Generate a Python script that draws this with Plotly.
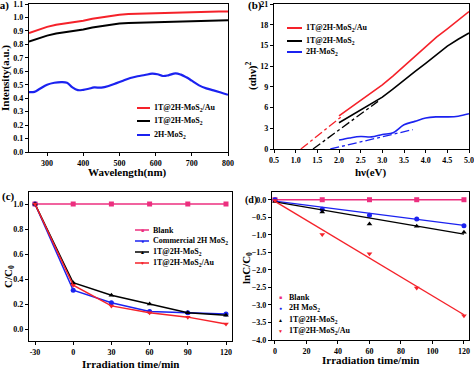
import plotly.graph_objects as go

W, H = 474, 368
def px(x): return x / W
def py(y): return 1 - y / H

# ---------- data ----------
# (a) absorption
wl = [250, 275, 300, 325, 350, 375, 400, 425, 450, 475, 500, 525, 550, 575, 600, 625, 650, 675, 700, 725, 750, 775, 800]
int_au = [0.885, 0.91, 0.93, 0.945, 0.955, 0.962, 0.975, 0.99, 1.0, 1.012, 1.02, 1.025, 1.028, 1.029, 1.03, 1.032, 1.035, 1.037, 1.04, 1.041, 1.042, 1.044, 1.045]
int_1t = [0.82, 0.845, 0.865, 0.88, 0.89, 0.897, 0.91, 0.925, 0.935, 0.947, 0.955, 0.959, 0.962, 0.964, 0.965, 0.966, 0.968, 0.97, 0.972, 0.975, 0.978, 0.979, 0.98]
wl_2h = [250, 265, 280, 300, 320, 340, 355, 370, 385, 400, 415, 430, 450, 470, 490, 510, 530, 550, 570, 590, 605, 620, 635, 655, 670, 685, 700, 720, 740, 760, 780, 800]
int_2h = [0.445, 0.447, 0.47, 0.5, 0.515, 0.52, 0.515, 0.48, 0.46, 0.462, 0.47, 0.48, 0.478, 0.49, 0.51, 0.53, 0.55, 0.563, 0.572, 0.582, 0.578, 0.565, 0.57, 0.585, 0.575, 0.555, 0.53, 0.495, 0.473, 0.458, 0.442, 0.425]

# (b) Tauc plot
hv = [2.0, 2.25, 2.5, 2.75, 3.0, 3.25, 3.5, 3.75, 4.0, 4.25, 4.5, 4.75, 5.0]
tauc_au = [4.8, 5.9, 7.0, 8.1, 9.3, 10.6, 12.0, 13.5, 14.9, 16.2, 17.4, 18.6, 19.9]
tauc_1t = [3.8, 4.7, 5.6, 6.5, 7.5, 8.7, 10.0, 11.2, 12.4, 13.7, 14.9, 15.9, 16.8]
tauc_2h = [1.3, 1.6, 1.8, 1.75, 2.1, 2.35, 3.5, 4.0, 4.5, 4.65, 4.65, 4.75, 5.1]
fit_au_x = [1.12, 2.1]; fit_au_y = [0.0, 4.9]
fit_1t_x = [1.4, 2.9]; fit_1t_y = [0.0, 6.9]
fit_2h_x = [1.8, 3.7]; fit_2h_y = [0.0, 2.8]

# (c) C/C0
t_labels = ["-30", "0", "30", "60", "90", "120"]
c_blank = [1.0, 1.0, 1.0, 1.0, 1.0, 1.0]
c_2h = [1.0, 0.31, 0.21, 0.14, 0.13, 0.12]
c_1t = [1.0, 0.37, 0.27, 0.20, 0.13, 0.11]
c_au = [1.0, 0.35, 0.185, 0.13, 0.095, 0.04]

# (d) ln(C/C0)
t_min = [0, 30, 60, 90, 120]
ln_blank = [0.0, 0.0, 0.0, 0.0, 0.0]
ln_2h = [0.0, -0.27, -0.44, -0.55, -0.74]
ln_1t = [-0.05, -0.35, -0.69, -0.76, -0.93]
ln_au = [-0.02, -0.99, -1.54, -2.52, -3.31]
fit_t = [0, 120]
fit_blank = [0.0, 0.0]
fit_2h = [-0.04, -0.73]
fit_1t = [-0.06, -0.98]
fit_au = [-0.05, -3.28]

RED = "#f5222a"; BLACK = "#000000"; BLUE = "#1b22f0"; PINK = "#ec2f7f"
FONT = "Liberation Serif"

fig = go.Figure()

# (a)
fig.add_trace(go.Scatter(x=wl, y=int_au, mode="lines", line=dict(color=RED, width=2), xaxis="x", yaxis="y"))
fig.add_trace(go.Scatter(x=wl, y=int_1t, mode="lines", line=dict(color=BLACK, width=2), xaxis="x", yaxis="y"))
fig.add_trace(go.Scatter(x=wl_2h, y=int_2h, mode="lines", line=dict(color=BLUE, width=2.2, shape="spline"), xaxis="x", yaxis="y"))

# (b)
fig.add_trace(go.Scatter(x=hv, y=tauc_au, mode="lines", line=dict(color=RED, width=1.6), xaxis="x2", yaxis="y2"))
fig.add_trace(go.Scatter(x=hv, y=tauc_1t, mode="lines", line=dict(color=BLACK, width=1.6), xaxis="x2", yaxis="y2"))
fig.add_trace(go.Scatter(x=hv, y=tauc_2h, mode="lines", line=dict(color=BLUE, width=1.6, shape="spline"), xaxis="x2", yaxis="y2"))
fig.add_trace(go.Scatter(x=fit_au_x, y=fit_au_y, mode="lines", line=dict(color=RED, width=1.3, dash="dashdot"), xaxis="x2", yaxis="y2"))
fig.add_trace(go.Scatter(x=fit_1t_x, y=fit_1t_y, mode="lines", line=dict(color=BLACK, width=1.3, dash="dashdot"), xaxis="x2", yaxis="y2"))
fig.add_trace(go.Scatter(x=fit_2h_x, y=fit_2h_y, mode="lines", line=dict(color=BLUE, width=1.3, dash="dashdot"), xaxis="x2", yaxis="y2"))

# (c)
for ys, col, sym in [(c_blank, PINK, "square"), (c_2h, BLUE, "circle"), (c_1t, BLACK, "triangle-up"), (c_au, RED, "triangle-down")]:
    fig.add_trace(go.Scatter(x=t_labels, y=ys, mode="lines+markers", line=dict(color=col, width=1.5),
                             marker=dict(symbol=sym, size=5, color=col), xaxis="x3", yaxis="y3"))

# (d)
for ys, fy, col, sym in [(ln_blank, fit_blank, PINK, "square"), (ln_2h, fit_2h, BLUE, "circle"),
                         (ln_1t, fit_1t, BLACK, "triangle-up"), (ln_au, fit_au, RED, "triangle-down")]:
    fig.add_trace(go.Scatter(x=fit_t, y=fy, mode="lines", line=dict(color=col, width=1.4), xaxis="x4", yaxis="y4"))
    fig.add_trace(go.Scatter(x=t_min, y=ys, mode="markers", marker=dict(symbol=sym, size=5, color=col), xaxis="x4", yaxis="y4"))

tickfont = dict(family=FONT, size=8, color="black", weight="bold")
def ax(**kw):
    d = dict(showgrid=False, zeroline=False, showline=True, linecolor="black", linewidth=1.2, mirror=True,
             ticks="outside", ticklen=3, tickwidth=1, tickcolor="black", tickfont=tickfont,
             automargin=False, ticklabeloverflow="allow")
    d.update(kw)
    return d

fig.update_layout(
    template="none",
    width=W, height=H, margin=dict(l=0, r=0, t=0, b=0, pad=0), autosize=False,
    paper_bgcolor="white", plot_bgcolor="white", showlegend=False,
    font=dict(family=FONT, color="black"),
    xaxis=ax(domain=[px(29), px(228)], range=[250, 800], tickvals=[300, 400, 500, 600, 700, 800], anchor="y"),
    yaxis=ax(domain=[py(152), py(4)], range=[0, 1.1], dtick=0.1, tickformat=".1f", anchor="x"),
    xaxis2=ax(domain=[px(274), px(469)], range=[0.5, 5.0], dtick=0.5, tickformat=".1f", anchor="y2"),
    yaxis2=ax(domain=[py(149), py(4)], range=[0, 21], dtick=3, anchor="x2"),
    xaxis3=ax(domain=[px(29), px(232)], type="category", range=[-0.157, 5.157], anchor="y3"),
    yaxis3=ax(domain=[py(341), py(192)], range=[-0.096, 1.096], tickvals=[0, 0.2, 0.4, 0.6, 0.8, 1.0], tickformat=".1f", anchor="x3"),
    xaxis4=ax(domain=[px(272), px(469)], range=[-1.9, 123.2], dtick=20, anchor="y4"),
    yaxis4=ax(domain=[py(340), py(192)], range=[-4.0, 0.22], dtick=0.5, tickformat=".1f", anchor="x4"),
)

ann = []
def text(x, y, s, size=11, angle=0, xanchor="center", color="black"):
    ann.append(dict(x=px(x), y=py(y), xref="paper", yref="paper", text=s, showarrow=False, textangle=angle,
                    xanchor=xanchor, yanchor="middle", font=dict(family=FONT, size=size, color=color, weight="bold")))

# panel labels
text(11, 6, "(a)", 11, xanchor="right")
text(246, 6, "(b)", 11, xanchor="left")
text(0, 196, "(c)", 11, xanchor="left")
text(243, 200, "(d)", 10, xanchor="left")
# axis titles
text(128, 173, "Wavelength(nm)", 11)
text(6, 78, "Intensity(a.u.)", 11, angle=-90)
text(371, 173, "hν(eV)", 11)
text(251, 76, "(αhν)<sup>2</sup>", 11, angle=-90)
text(130, 364, "Irradiation time/min", 11)
text(9, 277, "C/C<sub>0</sub>", 11, angle=-90)
text(370, 360, "Irradiation time/min", 11)
text(247, 268, "lnC/C<sub>0</sub>", 11, angle=-90)

shapes = []
def lseg(x0, x1, y, col, w=2):
    shapes.append(dict(type="line", xref="paper", yref="paper", x0=px(x0), x1=px(x1), y0=py(y), y1=py(y),
                       line=dict(color=col, width=w)))

# legend (a)
for y, col, lab in [(108, RED, "1T@2H-MoS<sub>2</sub>/Au"), (121, BLACK, "1T@2H-MoS<sub>2</sub>"), (135, BLUE, "2H-MoS<sub>2</sub>")]:
    lseg(137, 150, y, col, 2)
    text(152, y, lab, 8, xanchor="left")
# legend (b)
for y, col, lab in [(28, RED, "1T@2H-MoS<sub>2</sub>/Au"), (41, BLACK, "1T@2H-MoS<sub>2</sub>"), (52, BLUE, "2H-MoS<sub>2</sub>")]:
    lseg(287, 302, y, col, 2)
    text(304, y, lab, 8, xanchor="left")
# legend (c)
for y, col, g, lab in [(230, PINK, "■", "Blank"), (241, BLUE, "●", "Commercial 2H MoS<sub>2</sub>"),
                       (252, BLACK, "▲", "1T@2H-MoS<sub>2</sub>"), (263, RED, "▼", "1T@2H-MoS<sub>2</sub>/Au")]:
    lseg(135, 149, y, col, 1.5)
    text(142, y, g, 5, color=col)
    text(151, y, lab, 8, xanchor="left")
# legend (d)
for y, col, g, lab in [(297, PINK, "■", "Blank"), (308, BLUE, "●", "2H MoS<sub>2</sub>"),
                       (320, BLACK, "▲", "1T@2H-MoS<sub>2</sub>"), (331, RED, "▼", "1T@2H-MoS<sub>2</sub>/Au")]:
    text(280, y, g, 5, color=col)
    text(287, y, lab, 8, xanchor="left")

fig.update_layout(annotations=ann, shapes=shapes)
fig.write_html("out.html", config={"displayModeBar": False},
               post_script="document.body.style.margin='0';document.body.style.padding='0';")
